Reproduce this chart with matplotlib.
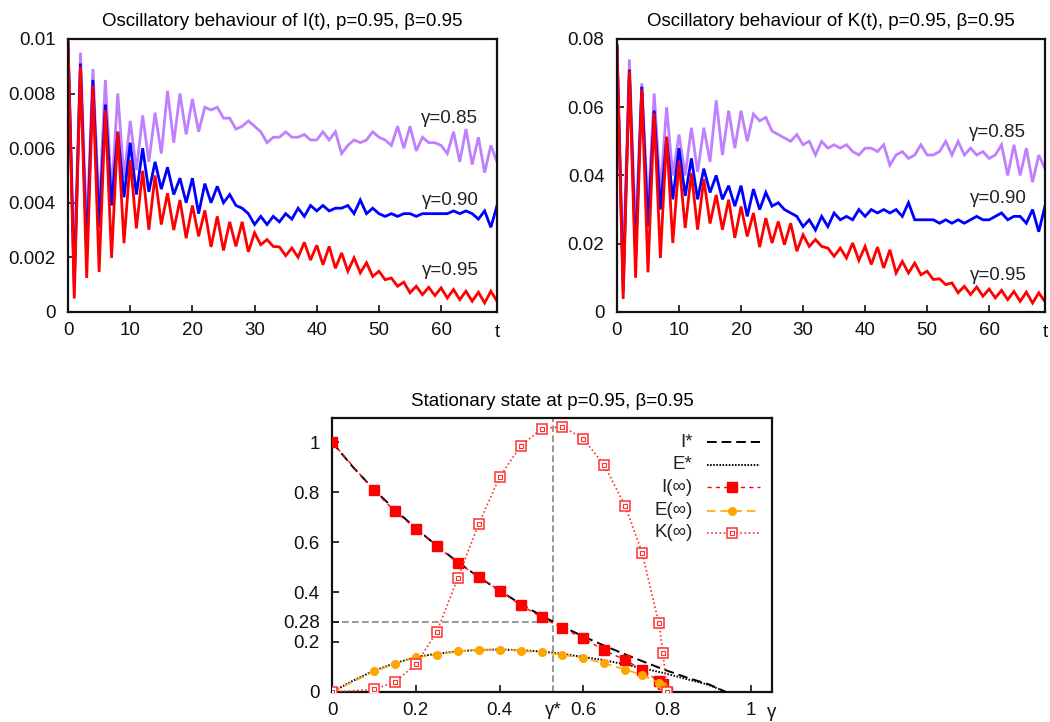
import matplotlib
matplotlib.use("Agg")
import matplotlib.pyplot as plt
import numpy as np

plt.rcParams['font.family'] = ['Liberation Sans', 'DejaVu Sans']

# ---------------- time series data ----------------
t = list(range(70))

I_g085 = [0.0098, 0.0017, 0.0095, 0.0029, 0.0089, 0.0037, 0.0085, 0.0043, 0.0080, 0.0049,
          0.0070, 0.0052, 0.0072, 0.0055, 0.0073, 0.0058, 0.0081, 0.0062, 0.0080, 0.0065,
          0.0078, 0.0066, 0.0075, 0.0074, 0.0075, 0.0071, 0.0071, 0.0067, 0.0068, 0.0070,
          0.0068, 0.0066, 0.0062, 0.0064, 0.0064, 0.0066, 0.0064, 0.0064, 0.0065, 0.0063,
          0.0063, 0.0066, 0.0063, 0.0066, 0.0058, 0.0061, 0.0063, 0.0062, 0.0063, 0.0066,
          0.0064, 0.0063, 0.0061, 0.0068, 0.0060, 0.0068, 0.0059, 0.0064, 0.0062, 0.0062,
          0.0061, 0.0058, 0.0066, 0.0055, 0.0067, 0.0054, 0.0064, 0.0051, 0.0061, 0.0055]

I_g090 = [0.0099, 0.0009, 0.0091, 0.0021, 0.0085, 0.0031, 0.0076, 0.0039, 0.0066, 0.0042,
          0.0062, 0.0043, 0.0060, 0.0044, 0.0055, 0.0045, 0.0053, 0.0043, 0.0049, 0.0040,
          0.0049, 0.0036, 0.0047, 0.0040, 0.0046, 0.0040, 0.0043, 0.0039, 0.0038, 0.0036,
          0.0032, 0.0035, 0.0032, 0.0035, 0.0033, 0.0036, 0.0034, 0.0038, 0.0035, 0.0039,
          0.0037, 0.0039, 0.0037, 0.0038, 0.0038, 0.0039, 0.0036, 0.0041, 0.0036, 0.0038,
          0.0036, 0.0035, 0.0036, 0.0035, 0.0036, 0.0036, 0.0035, 0.0036, 0.0036, 0.0036,
          0.0036, 0.0036, 0.0037, 0.0036, 0.0037, 0.0036, 0.0034, 0.0037, 0.0031, 0.0039]

I_g095 = [0.0099, 0.00049, 0.0090, 0.00124, 0.0083, 0.00146, 0.0074, 0.00198, 0.0066, 0.00252,
          0.00557, 0.00306, 0.00517, 0.00301, 0.0050, 0.0032, 0.00435, 0.0030, 0.0041, 0.0027,
          0.0039, 0.00277, 0.00372, 0.00238, 0.0035, 0.00225, 0.0033, 0.0024, 0.0033, 0.0022,
          0.0029, 0.00246, 0.00265, 0.0024, 0.00238, 0.00206, 0.00234, 0.0020, 0.00255, 0.0019,
          0.00244, 0.00173, 0.0024, 0.0016, 0.00216, 0.00149, 0.00198, 0.00143, 0.0018, 0.0013,
          0.00149, 0.00118, 0.00124, 0.00094, 0.00109, 0.0007, 0.00094, 0.00063, 0.0009, 0.0006,
          0.00088, 0.00051, 0.00082, 0.00045, 0.00076, 0.00039, 0.00072, 0.00033, 0.00076, 0.00039]

K_g085 = [0.078, 0.013, 0.074, 0.023, 0.067, 0.030, 0.064, 0.035, 0.060, 0.040,
          0.052, 0.040, 0.054, 0.041, 0.054, 0.044, 0.062, 0.046, 0.059, 0.048,
          0.059, 0.050, 0.058, 0.056, 0.057, 0.053, 0.052, 0.051, 0.050, 0.052,
          0.049, 0.050, 0.046, 0.050, 0.048, 0.049, 0.048, 0.049, 0.047, 0.046,
          0.048, 0.048, 0.047, 0.049, 0.043, 0.046, 0.047, 0.045, 0.046, 0.049,
          0.046, 0.046, 0.047, 0.050, 0.046, 0.050, 0.046, 0.048, 0.046, 0.047,
          0.045, 0.046, 0.049, 0.040, 0.049, 0.040, 0.048, 0.038, 0.046, 0.042]

K_g090 = [0.078, 0.006, 0.071, 0.016, 0.066, 0.025, 0.059, 0.030, 0.051, 0.033,
          0.048, 0.034, 0.045, 0.033, 0.042, 0.035, 0.040, 0.033, 0.037, 0.031,
          0.037, 0.028, 0.036, 0.030, 0.035, 0.031, 0.032, 0.030, 0.029, 0.028,
          0.025, 0.027, 0.024, 0.028, 0.025, 0.029, 0.027, 0.028, 0.027, 0.030,
          0.028, 0.030, 0.029, 0.030, 0.029, 0.030, 0.028, 0.032, 0.027, 0.027,
          0.027, 0.027, 0.026, 0.027, 0.026, 0.027, 0.026, 0.027, 0.028, 0.027,
          0.027, 0.028, 0.029, 0.027, 0.028, 0.028, 0.026, 0.030, 0.0235, 0.031]

K_g095 = [0.078, 0.0038, 0.0706, 0.0100, 0.0653, 0.0116, 0.0582, 0.0158, 0.0514, 0.0202,
          0.0441, 0.0246, 0.0407, 0.0241, 0.0389, 0.0259, 0.0343, 0.0241, 0.0329, 0.0217,
          0.0309, 0.0221, 0.0290, 0.0190, 0.0275, 0.0202, 0.0265, 0.0197, 0.0260, 0.0178,
          0.0226, 0.0192, 0.0212, 0.0192, 0.0187, 0.0163, 0.0187, 0.0158, 0.0202, 0.0151,
          0.0192, 0.0139, 0.0190, 0.0129, 0.0182, 0.0114, 0.0148, 0.0114, 0.0143, 0.0109,
          0.0119, 0.0095, 0.0097, 0.0080, 0.0085, 0.0056, 0.0075, 0.0051, 0.0073, 0.0046,
          0.0067, 0.0041, 0.0063, 0.0036, 0.0060, 0.0031, 0.0058, 0.0026, 0.0056, 0.0030]

gamma_labels = ["γ=0.85", "γ=0.90", "γ=0.95"]

# ---------------- stationary state data ----------------
gamma_pts = [0.0, 0.1, 0.15, 0.2, 0.25, 0.3, 0.35, 0.4, 0.45, 0.5, 0.55, 0.6,
             0.65, 0.7, 0.74, 0.78, 0.79, 0.8]
I_inf = [1.0, 0.807, 0.723, 0.654, 0.584, 0.517, 0.461, 0.406, 0.348, 0.299, 0.255,
         0.215, 0.166, 0.128, 0.089, 0.043, 0.030, 0.0]
E_inf = [0.0, 0.082, 0.112, 0.138, 0.149, 0.162, 0.169, 0.169, 0.165, 0.158, 0.149,
         0.135, 0.115, 0.089, 0.069, 0.036, 0.022, 0.003]
K_inf = [0.0, 0.01, 0.04, 0.11, 0.24, 0.455, 0.672, 0.86, 0.984, 1.053, 1.062,
         1.013, 0.907, 0.743, 0.558, 0.275, 0.155, 0.0]

gamma_line = [0.0, 0.05, 0.1, 0.15, 0.2, 0.25, 0.3, 0.35, 0.4, 0.45, 0.5, 0.55,
              0.6, 0.65, 0.7, 0.75, 0.8, 0.85, 0.9, 0.94]
I_star = [1.0, 0.90, 0.81, 0.73, 0.655, 0.585, 0.52, 0.46, 0.405, 0.353, 0.305, 0.262,
          0.222, 0.185, 0.15, 0.117, 0.085, 0.056, 0.03, 0.0]
E_star = [0.0, 0.045, 0.085, 0.115, 0.14, 0.153, 0.163, 0.168, 0.17, 0.167, 0.162, 0.152,
          0.14, 0.127, 0.11, 0.092, 0.072, 0.05, 0.028, 0.0]

gamma_star = 0.528
I_at_star = 0.28

# ---------------- styling ----------------
PURPLE = '#bf80ff'
BLUE = '#0000ff'
RED = '#ff0000'
KRED = '#ff3030'
ORANGE = '#ffa500'
FS = 13.5

fig = plt.figure(figsize=(10.5, 7.22), dpi=100)


def style_axes(ax):
    for s in ax.spines.values():
        s.set_linewidth(1.6)
        s.set_color('#111111')
    ax.tick_params(direction='in', length=5, width=1.2, labelsize=FS,
                   colors='#111111', top=False, right=False)
    ax.tick_params(axis='y', pad=9)
    ax.tick_params(axis='x', pad=7)


def time_panel(rect, series, title, ymax, ystep, label_y):
    ax = fig.add_axes(rect)
    for ys, c in zip(series, [PURPLE, BLUE, RED]):
        ax.plot(t, ys, color=c, lw=2.0, solid_joinstyle='miter')
    ax.set_xlim(0, 69)
    ax.set_ylim(0, ymax)
    ax.set_xticks([0, 10, 20, 30, 40, 50, 60])
    ax.set_yticks(np.arange(0, ymax + ystep / 2, ystep))
    ax.set_yticklabels(['0'] + ['%g' % v for v in np.arange(ystep, ymax + ystep / 2, ystep)])
    style_axes(ax)
    ax.set_title(title, fontsize=FS, pad=9)
    ax.text(69, -0.045, 't', transform=ax.get_xaxis_transform(),
            ha='center', va='top', fontsize=FS, color='#111111')
    for lab, yv in zip(gamma_labels, label_y):
        ax.text(66, yv, lab, ha='right', va='center', fontsize=FS, color='#222222')
    return ax


time_panel([0.0648, 0.568, 0.4086, 0.378], [I_g085, I_g090, I_g095],
           "Oscillatory behaviour of I(t), p=0.95, β=0.95", 0.01, 0.002,
           [0.0071, 0.0041, 0.0015])
time_panel([0.5876, 0.568, 0.4076, 0.378], [K_g085, K_g090, K_g095],
           "Oscillatory behaviour of K(t), p=0.95, β=0.95", 0.08, 0.02,
           [0.0527, 0.0331, 0.0108])

# ---------------- stationary state panel ----------------
ax = fig.add_axes([0.3162, 0.0416, 0.419, 0.379])
ax.axvline(gamma_star, color='#888888', lw=1.2, dashes=(4, 2), zorder=1)
ax.plot([0, gamma_star], [I_at_star, I_at_star], color='#888888', lw=1.2,
        dashes=(4, 2), zorder=1)

styles = [
    dict(color='black', lw=1.4, dashes=(5, 2.5)),
    dict(color='black', lw=1.4, dashes=(0.8, 0.8)),
    dict(color=RED, lw=1.0, dashes=(3, 3), marker='s', ms=7, mfc=RED, mec=RED),
    dict(color=ORANGE, lw=1.2, dashes=(5, 3), marker='o', ms=5.5, mfc=ORANGE, mec=ORANGE),
    dict(color=KRED, lw=1.2, dashes=(1, 1.5), marker='s', ms=6.5, mfc='white',
         mec=KRED, mew=1.1),
]
inner = dict(ls='none', marker='s', ms=2.6, mfc='none', mec=KRED, mew=0.8)
labels = ['I*', 'E*', 'I(∞)', 'E(∞)', 'K(∞)']

ax.plot(gamma_line, I_star, zorder=3, **styles[0])
ax.plot(gamma_line, E_star, zorder=3, **styles[1])
ax.plot(gamma_pts, I_inf, zorder=4, **styles[2])
ax.plot(gamma_pts, E_inf, zorder=4, **styles[3])
ax.plot(gamma_pts, K_inf, zorder=5, **styles[4])
ax.plot(gamma_pts, K_inf, zorder=6, **inner)

ax.set_xlim(0, 1.05)
ax.set_ylim(0, 1.095)
ax.set_xticks([0, 0.2, 0.4, gamma_star, 0.6, 0.8, 1.0])
ax.set_xticklabels(['0', '0.2', '0.4', 'γ*', '0.6', '0.8', '1'])
ax.set_yticks([0, 0.2, I_at_star, 0.4, 0.6, 0.8, 1.0])
ax.set_yticklabels(['0', '0.2', '0.28', '0.4', '0.6', '0.8', '1'])
style_axes(ax)
ax.xaxis.get_major_ticks()[3].tick1line.set_visible(False)
ax.set_title("Stationary state at p=0.95, β=0.95", fontsize=FS, pad=9)
ax.text(1.05, -0.045, 'γ', transform=ax.get_xaxis_transform(),
        ha='center', va='top', fontsize=FS, color='#111111')

# key: label text on the left, line sample on the right
tr = ax.transAxes
key_y = [0.913, 0.831, 0.748, 0.663, 0.581]
for i, (yk, lab, st) in enumerate(zip(key_y, labels, styles)):
    ax.text(0.82, yk, lab, transform=tr, ha='right', va='center', fontsize=FS,
            color='#222222')
    line_st = {k: v for k, v in st.items() if k not in ('marker', 'ms', 'mfc', 'mec', 'mew')}
    ax.plot([0.852, 0.973], [yk, yk], transform=tr, clip_on=False, **line_st)
    if 'marker' in st:
        mk = {k: st[k] for k in ('marker', 'ms', 'mfc', 'mec') if k in st}
        ax.plot([0.909], [yk], transform=tr, ls='none', mew=st.get('mew', 1.0), **mk)
    if i == 4:
        ax.plot([0.909], [yk], transform=tr, **inner)

fig.savefig('out.png', dpi=100)
